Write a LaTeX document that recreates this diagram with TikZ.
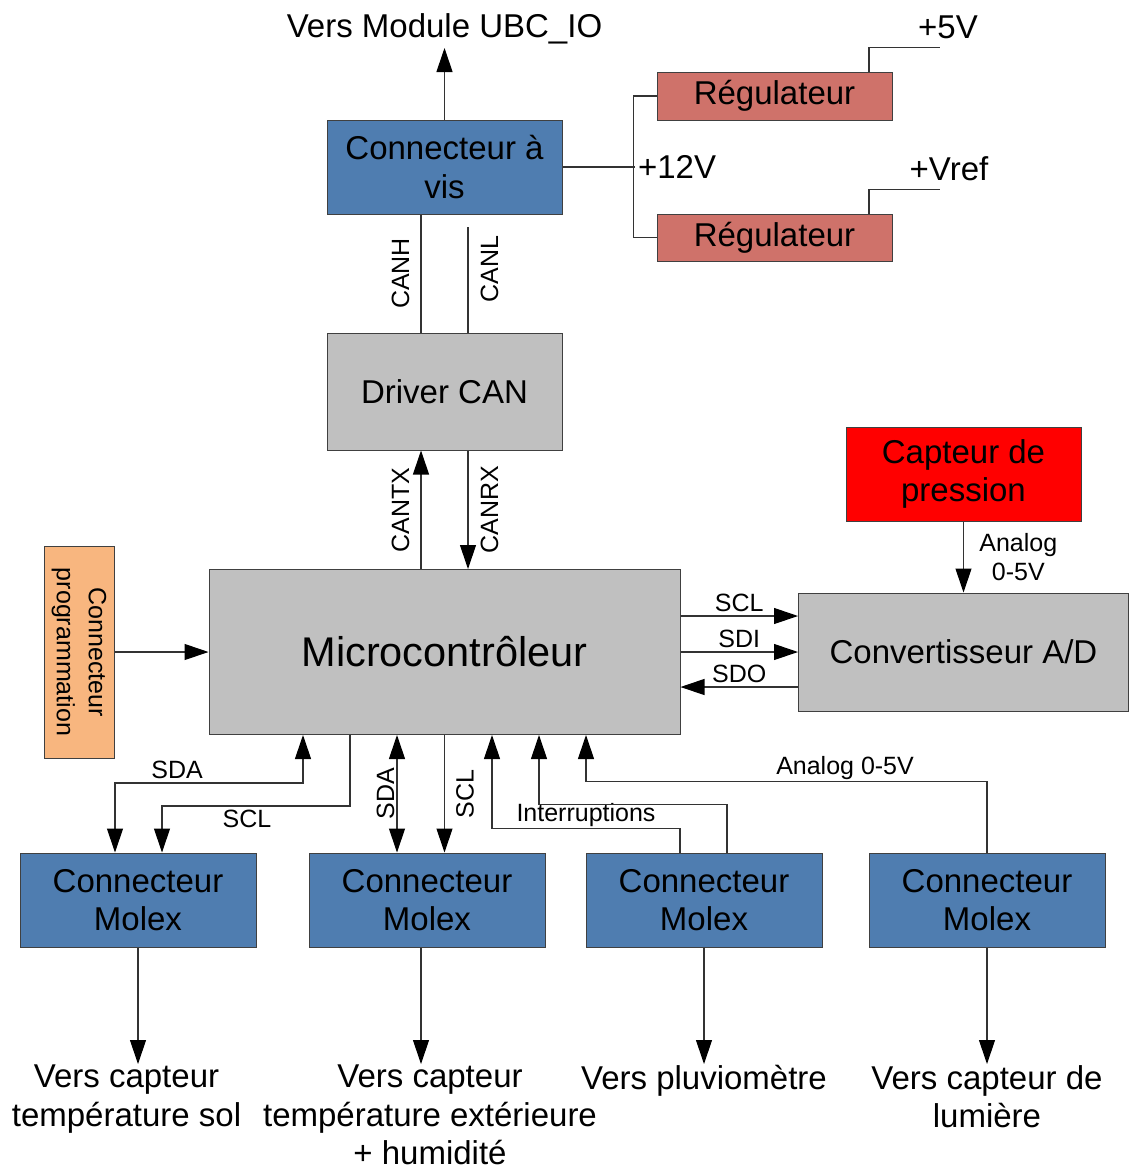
\documentclass[tikz,border=0pt]{standalone}
\usepackage{fontspec}
\setmainfont{Liberation Sans}
\usetikzlibrary{arrows.meta}
\definecolor{molex}{RGB}{79,125,176}
\definecolor{regul}{RGB}{207,114,106}
\definecolor{progr}{RGB}{248,182,127}
\definecolor{gris}{RGB}{192,192,192}
\newcommand\fbig{\fontsize{33}{38.5}\selectfont}
\newcommand\fsmall{\fontsize{25}{29}\selectfont}
\newcommand\fmcu{\fontsize{41.5}{50}\selectfont}
\begin{document}
\begin{tikzpicture}[x=1pt,y=-1pt,
  box/.style={draw=black!75,line width=1pt,inner sep=0pt,minimum width=235pt,minimum height=94pt,align=center,font=\fbig},
  wire/.style={draw=black!80,line width=1.1pt},
  arr/.style={wire,-{Triangle[length=24pt,width=16pt,color=black]}},
  biarr/.style={wire,{Triangle[length=24pt,width=16pt,color=black]}-{Triangle[length=24pt,width=16pt,color=black]}},
  lbl/.style={font=\fsmall},
  txt/.style={font=\fbig,align=center}]
\useasboundingbox (0,0) rectangle (1131,1171);
% blocs
\node[box,fill=molex] (vis) at (444.5,167) {Connecteur à\\vis};
\node[box,fill=regul,minimum height=48pt] (reg1) at (774.5,96) {Régulateur};
\node[box,fill=regul,minimum height=47pt] (reg2) at (774.5,237.5) {Régulateur};
\node[box,fill=gris,minimum height=117pt] (can) at (444.5,391.5) {Driver CAN};
\node[box,fill=red] (press) at (963.5,474) {Capteur de\\pression};
\node[box,fill=progr,minimum width=212pt,minimum height=70pt,rotate=-90,font=\fontsize{25}{32}\selectfont] (prog) at (79,652) {Connecteur\\programmation};
\node[box,fill=gris,minimum width=471pt,minimum height=165pt,font=\fmcu] (mcu) at (444.5,652) {Microcontrôleur};
\node[box,fill=gris,minimum width=330pt,minimum height=118pt] (adc) at (963.5,652) {Convertisseur A/D};
\foreach \n/\x in {1/138,2/427,3/704,4/987}
  \node[box,fill=molex,minimum width=236pt] (molex\n) at (\x,900) {Connecteur\\Molex};
% textes libres
\node[txt,anchor=south,inner sep=4pt] (ubc) at (444.5,48) {Vers Module UBC\_IO};
\node[txt,anchor=north,inner sep=1pt] (tsol) at (126.5,1064) {Vers capteur\\température sol};
\node[txt,anchor=north,inner sep=1pt] (tout) at (430,1064) {Vers capteur\\température extérieure\\+ humidité};
\node[txt,anchor=north,inner sep=1pt] (tpluie) at (704,1064) {Vers pluviomètre};
\node[txt,anchor=north,inner sep=1pt] (tlum) at (987,1064) {Vers capteur de\\lumière};
% alimentation
\draw[arr] (vis.north) -- (vis.north |- ubc.south);
\draw[wire] (vis.east) -- ++(72,0) node[right,txt,inner sep=3pt] (v12) {+12V};
\draw[wire] (reg1.west) -- ++(-23,0) |- (reg2.west);
\draw[wire] ([xshift=94.5pt]reg1.north) |- ++(71,-24) node[above,xshift=8pt,txt,inner sep=8pt] (v5) {+5V};
\draw[wire] ([xshift=94.5pt]reg2.north) |- ++(71,-24) node[above,xshift=9pt,txt,inner sep=8pt] (vref) {+Vref};
% bus CAN
\draw[wire] ([xshift=-23.5pt]vis.south) -- ([xshift=-23.5pt]can.north) node[midway,above,rotate=90,lbl,inner sep=11pt] (canh) {CANH};
\draw[wire] ([xshift=23.5pt]can.north) -- ++(0,-106) node[pos=0.6,below,rotate=90,lbl,inner sep=12pt] (canl) {CANL};
\draw[arr] ([xshift=-23.5pt]mcu.north) -- ([xshift=-23.5pt]can.south) node[midway,above,rotate=90,lbl,inner sep=11pt] (cantx) {CANTX};
\draw[arr] ([xshift=23.5pt]can.south) -- ([xshift=23.5pt]mcu.north) node[midway,below,rotate=90,lbl,inner sep=12pt] (canrx) {CANRX};
% programmation et convertisseur
\draw[arr] (prog.north) -- (prog.north -| mcu.west);
\draw[arr] ([yshift=36pt]mcu.east) -- ([yshift=36pt]adc.west) node[midway,above,lbl] (scl1) {SCL};
\draw[arr] (mcu.east) -- (adc.west) node[midway,above,lbl] (sdi) {SDI};
\draw[arr] ([yshift=-35pt]adc.west) -- ([yshift=-35pt]mcu.east) node[midway,above,lbl] (sdo) {SDO};
\draw[arr] (press.south) -- (adc.north) node[midway,right,lbl,align=center,xshift=12pt] (ana1) {Analog\\0-5V};
% capteurs
\draw[biarr] ([xshift=-141.5pt]mcu.south) -- ++(0,48) -| ([xshift=-23pt]molex1.north) node[pos=0.335,above,lbl] (sda1) {SDA};
\draw[arr] ([xshift=-94.5pt]mcu.south) -- ++(0,71) -| ([xshift=24pt]molex1.north) node[pos=0.274,below,lbl] (scl2) {SCL};
\draw[biarr] ([xshift=-47.5pt]mcu.south) -- ([xshift=-30pt]molex2.north) node[midway,above,rotate=90,lbl,inner sep=2pt] (sda2) {SDA};
\draw[arr] (mcu.south) -- (mcu.south |- molex2.north) node[midway,below,rotate=90,lbl,inner sep=11pt] (scl3) {SCL};
\draw[arr] ([xshift=-24pt]molex3.north) -- ++(0,-24) -| ([xshift=47.5pt]mcu.south) node[pos=0.25,above,lbl,inner sep=1pt] (intr) {Interruptions};
\draw[arr] ([xshift=23pt]molex3.north) -- ++(0,-48) -| ([xshift=94.5pt]mcu.south);
\draw[arr] (molex4.north) -- ++(0,-71) -| ([xshift=141.5pt]mcu.south) node[pos=0.177,above,lbl,inner sep=1pt] (ana2) {Analog 0-5V};
% sorties
\draw[arr] (molex1.south) -- (molex1.south |- tsol.north);
\draw[arr] ([xshift=-6pt]molex2.south) coordinate (m2b) -- (m2b |- tout.north);
\draw[arr] (molex3.south) -- (molex3.south |- tpluie.north);
\draw[arr] (molex4.south) -- (molex4.south |- tlum.north);
\end{tikzpicture}
\end{document}
